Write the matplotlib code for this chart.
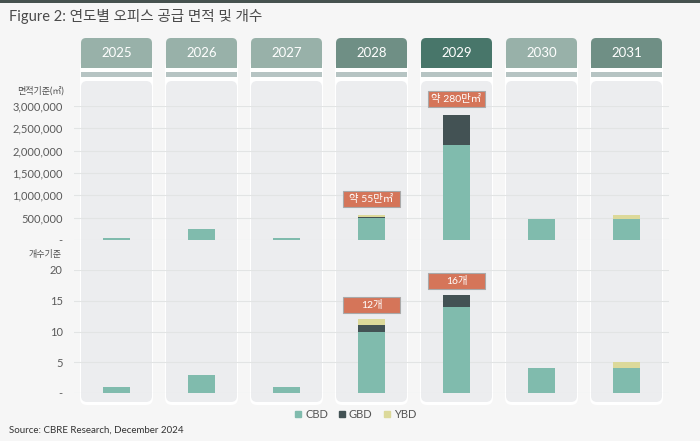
import matplotlib.pyplot as plt
from matplotlib.patches import FancyBboxPatch, Rectangle
from matplotlib.lines import Line2D
from matplotlib.ticker import FuncFormatter

plt.rcParams['font.family'] = ['Lato', 'Noto Sans CJK KR', 'DejaVu Sans']

years = ['2025', '2026', '2027', '2028', '2029', '2030', '2031']
header_colors = ['#98B1A9', '#98B1A9', '#98B1A9', '#6F8F85', '#48766A', '#98B1A9', '#6F8F85']

# 면적 (㎡)
area_cbd = [45000, 240000, 45000, 490000, 2120000, 460000, 470000]
area_gbd = [0, 0, 0, 20000, 680000, 0, 0]
area_ybd = [0, 0, 0, 40000, 0, 0, 90000]

# 개수
count_cbd = [1, 3, 1, 10, 14, 4, 4]
count_gbd = [0, 0, 0, 1, 2, 0, 0]
count_ybd = [0, 0, 0, 1, 0, 0, 1]

area_notes = {3: '약 55만㎡', 4: '약 280만㎡'}
count_notes = {3: '12개', 4: '16개'}

c_cbd, c_gbd, c_ybd = '#80BBAD', '#435254', '#DCD99A'
note_color = '#D57559'
bg_color = '#F6F6F6'
W, H = 700, 441

fig = plt.figure(figsize=(7, 4.41), dpi=100, facecolor=bg_color)

# background layer in pixel coords (y from bottom)
bg = fig.add_axes([0, 0, 1, 1], zorder=0)
bg.set_xlim(0, W)
bg.set_ylim(0, H)
bg.axis('off')

ax_top = fig.add_axes([74 / W, 1 - 240 / H, 595 / W, 134 / H], zorder=1)
ax_bot = fig.add_axes([74 / W, 1 - 393 / H, 595 / W, 123 / H], zorder=1)

bar_w = 0.306
x = list(range(len(years)))


def draw_stack(ax, cbd, gbd, ybd):
    b2 = [a + b for a, b in zip(cbd, gbd)]
    ax.bar(x, cbd, width=bar_w, color=c_cbd, zorder=3)
    ax.bar(x, gbd, width=bar_w, bottom=cbd, color=c_gbd, zorder=3)
    ax.bar(x, ybd, width=bar_w, bottom=b2, color=c_ybd, zorder=3)
    return [a + b for a, b in zip(b2, ybd)]


tot_area = draw_stack(ax_top, area_cbd, area_gbd, area_ybd)
tot_count = draw_stack(ax_bot, count_cbd, count_gbd, count_ybd)

ax_top.set_ylim(0, 3000000)
ax_top.set_yticks(range(0, 3000001, 500000))
ax_top.yaxis.set_major_formatter(FuncFormatter(lambda v, p: '-' if v == 0 else f'{int(v):,}'))
ax_bot.set_ylim(0, 20)
ax_bot.set_yticks(range(0, 21, 5))
ax_bot.yaxis.set_major_formatter(FuncFormatter(lambda v, p: '-' if v == 0 else f'{int(v)}'))

for ax in (ax_top, ax_bot):
    ax.set_xlim(-0.5, 6.5)
    ax.set_facecolor('none')
    ax.set_xticks([])
    for s in ax.spines.values():
        s.set_visible(False)
    ax.tick_params(axis='y', length=0, pad=8, labelsize=8, labelcolor='#5A5A5A')
    ax.grid(axis='y', color='#E2E4E4', lw=0.8, zorder=0)
    ax.set_axisbelow(True)
    ax.margins(y=0)

# panels behind each year
centers = [ax_top.transData.transform((i, 0))[0] for i in x]
for cx, yr, hc in zip(centers, years, header_colors):
    bg.add_patch(FancyBboxPatch((cx - 36.5, H - 405), 73, 345,
                                boxstyle='round,pad=0,rounding_size=7',
                                fc='white', ec='none'))
    bg.add_patch(FancyBboxPatch((cx - 35.5, H - 76), 71, 38,
                                boxstyle='round,pad=0,rounding_size=5',
                                fc=hc, ec='none'))
    bg.add_patch(Rectangle((cx - 36.5, H - 81), 73, 13, fc='white', ec='none'))
    bg.add_patch(Rectangle((cx - 35.5, H - 77), 71, 5, fc='#B6C4C3', ec='none'))
    bg.add_patch(FancyBboxPatch((cx - 35.5, H - 402), 71, 321,
                                boxstyle='round,pad=0,rounding_size=6',
                                fc='#ECEDEF', ec='none'))
    bg.text(cx, H - 53, yr, ha='center', va='center', color='white', fontsize=9.5)

# top dark strip
bg.add_patch(Rectangle((0, H - 3), W, 3, fc='#46524F', ec='none'))

# callout boxes on top of bars
fg = fig.add_axes([0, 0, 1, 1], zorder=2)
fg.set_xlim(0, W)
fg.set_ylim(0, H)
fg.axis('off')
fg.patch.set_alpha(0)


def callouts(ax, notes, totals, gap):
    for i, txt in notes.items():
        px, py = ax.transData.transform((i, totals[i]))
        fg.add_patch(Rectangle((px - 28.5, py + gap), 57, 16, fc=note_color,
                               ec='#A9A9A9', lw=0.8))
        fg.text(px, py + gap + 8, txt, ha='center', va='center', color='white', fontsize=7.5)


callouts(ax_top, area_notes, tot_area, 8)
callouts(ax_bot, count_notes, tot_count, 6)

# texts
fig.text(9 / W, 1 - 17 / H, 'Figure 2: 연도별 오피스 공급 면적 및 개수', ha='left', va='center',
         fontsize=10.5, color='#4A4A4A')
fig.text(64 / W, 1 - 91 / H, '면적기준(㎡)', ha='right', va='center', fontsize=6.5, color='#505050')
fig.text(62 / W, 1 - 255 / H, '개수기준', ha='right', va='center', fontsize=6.5, color='#505050')
fig.text(9 / W, 1 - 430 / H, 'Source: CBRE Research, December 2024', ha='left', va='center',
         fontsize=7, color='#333333')

handles = [Line2D([], [], ls='none', marker='s', ms=5, color=c) for c in (c_cbd, c_gbd, c_ybd)]
fig.legend(handles, ['CBD', 'GBD', 'YBD'], loc='center', bbox_to_anchor=(355 / W, 1 - 414 / H),
           ncol=3, frameon=False, fontsize=8, handlelength=0.8, handletextpad=0.2,
           columnspacing=0.9, labelcolor='#555555')

fig.savefig('out.png', dpi=100, facecolor=bg_color)
